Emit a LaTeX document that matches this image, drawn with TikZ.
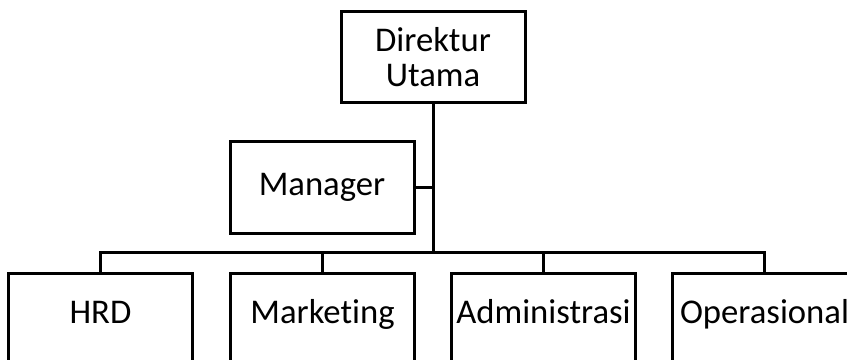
\documentclass[tikz,border=0pt]{standalone}
\usepackage{fontspec}
\setmainfont[Ligatures={NoCommon}]{Carlito}
\begin{document}
\begin{tikzpicture}[x=0.75pt,y=-0.75pt,
  box/.style={draw=black, line width=2.25pt, fill=white, rectangle, minimum width=184*0.75pt, inner sep=0pt, font=\fontsize{26}{26.25}\selectfont, align=center},
  conn/.style={draw=black, line width=2.25pt},
  lbl/.style={anchor=base, yshift=-38.25pt, font=\fontsize{26}{26.25}\selectfont}
]
\clip (0,0) rectangle (847,360);
\fill[white] (0,0) rectangle (847,360);
\node[box, minimum height=91*0.75pt] (dir) at (433,57.5) {Direktur\\Utama};
\node[box, minimum height=91*0.75pt] (man) at (322,187.5) {Manager};
\node[box, anchor=north, minimum height=110*0.75pt, label={[lbl]north:HRD}] (hrd) at (100.5,272) {};
\node[box, anchor=north, minimum height=110*0.75pt, label={[lbl]north:Marketing}] (mkt) at (322.5,272) {};
\node[box, anchor=north, minimum height=110*0.75pt, label={[lbl]north:Administrasi}] (adm) at (543.5,272) {};
\node[box, anchor=north, minimum height=110*0.75pt, label={[lbl]north:Operasional}] (ops) at (764.5,272) {};
\coordinate (bus) at (433,252);
\coordinate (busL) at (100.5,252);
\coordinate (busR) at (764.5,252);
\draw[conn] (dir.south) -- (bus);
\draw[conn] (man.east) -- (man.east -| bus);
\draw[conn, line cap=rect] (busL) -- (busR);
\draw[conn] (busL) -- (hrd.north);
\draw[conn] (mkt.north |- bus) -- (mkt.north);
\draw[conn] (adm.north |- bus) -- (adm.north);
\draw[conn] (busR) -- (ops.north);
\end{tikzpicture}
\end{document}
